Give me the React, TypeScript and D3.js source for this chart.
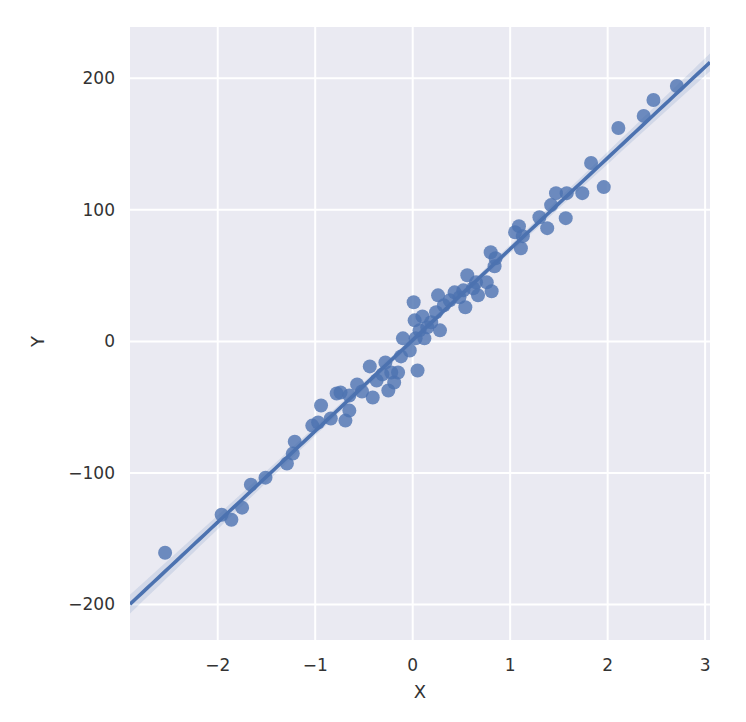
import React from "react";
import * as d3 from "d3";

const xValues = [-2.54,-1.96,-1.86,-1.75,-1.66,-1.51,-1.29,-1.23,-1.21,-1.03,-0.97,-0.94,-0.84,-0.78,-0.74,-0.69,-0.65,-0.65,-0.57,-0.52,-0.44,-0.41,-0.37,-0.31,-0.28,-0.25,-0.22,-0.19,-0.15,-0.12,-0.10,-0.03,0.01,0.05,0.02,0.03,0.07,0.10,0.12,0.15,0.19,0.24,0.26,0.28,0.32,0.38,0.43,0.48,0.52,0.54,0.56,0.62,0.65,0.67,0.76,0.81,0.80,0.85,0.84,1.05,1.09,1.11,1.13,1.30,1.38,1.42,1.47,1.58,1.57,1.74,1.83,1.96,2.11,2.37,2.47,2.71];
const yValues = [-160.7,-131.8,-135.6,-126.4,-108.9,-103.6,-92.9,-85.3,-76.2,-64.0,-61.7,-48.7,-58.6,-39.6,-38.8,-60.2,-52.6,-41.1,-32.7,-38.1,-19.0,-42.6,-29.7,-25.1,-16.0,-37.3,-23.6,-31.2,-23.6,-11.4,2.3,-6.9,29.7,-22.1,16.0,2.3,8.4,19.0,2.3,10.7,14.5,22.1,35.0,8.4,27.4,31.2,37.3,33.5,38.8,25.9,50.3,40.4,44.9,35.0,44.9,38.1,67.8,63.2,57.1,83.0,87.6,70.8,80.0,94.4,86.1,103.6,112.7,112.7,93.7,112.7,135.6,117.3,162.2,171.4,183.5,194.2];
const xTicks = [-2, -1, 0, 1, 2, 3];
const yTicks = [-200, -100, 0, 100, 200];
const xLabel = "X";
const yLabel = "Y";

const W = 746, H = 722;
const L = 130, R = 710, T = 27, B = 640;

export default function App() {
  const x = d3.scaleLinear().domain([-2.9, 3.05]).range([L, R]);
  const y = d3.scaleLinear().domain([-227, 239]).range([B, T]);
  const n = xValues.length;
  const mx = d3.mean(xValues)!;
  const my = d3.mean(yValues)!;
  let sxx = 0, sxy = 0;
  for (let i = 0; i < n; i++) {
    sxx += (xValues[i] - mx) ** 2;
    sxy += (xValues[i] - mx) * (yValues[i] - my);
  }
  const slope = sxy / sxx;
  const icpt = my - slope * mx;
  let sse = 0;
  for (let i = 0; i < n; i++) sse += (yValues[i] - (icpt + slope * xValues[i])) ** 2;
  const s = Math.sqrt(sse / (n - 2));
  const grid = d3.range(0, 101).map(i => -2.9 + (5.95 * i) / 100);
  const band = grid.map(g => {
    const f = icpt + slope * g;
    const se = s * Math.sqrt(1 / n + (g - mx) ** 2 / sxx);
    return { g, lo: f - 1.99 * se, hi: f + 1.99 * se, f };
  });
  const area = d3.area<any>().x(d => x(d.g)).y0(d => y(d.lo)).y1(d => y(d.hi));
  const line = d3.line<any>().x(d => x(d.g)).y(d => y(d.f));
  const font = "DejaVu Sans, sans-serif";
  const txt = "#333333";
  return (
    <svg width={W} height={H} style={{ position: "absolute", left: 0, top: 0, background: "#fff" }}>
      <defs>
        <clipPath id="plot"><rect x={L} y={T} width={R - L} height={B - T} /></clipPath>
      </defs>
      <rect x={L} y={T} width={R - L} height={B - T} fill="#eaeaf2" />
      {xTicks.map(t => (
        <line key={"gx" + t} x1={x(t)} x2={x(t)} y1={T} y2={B} stroke="#fff" strokeWidth={2} />
      ))}
      {yTicks.map(t => (
        <line key={"gy" + t} x1={L} x2={R} y1={y(t)} y2={y(t)} stroke="#fff" strokeWidth={2} />
      ))}
      <g clipPath="url(#plot)">
        {xValues.map((v, i) => (
          <circle key={i} cx={x(v)} cy={y(yValues[i])} r={7} fill="#4c72b0" fillOpacity={0.8} />
        ))}
        <path d={area(band)!} fill="#4c72b0" fillOpacity={0.15} />
        <path d={line(band)!} fill="none" stroke="#4c72b0" strokeWidth={3.6} />
      </g>
      {xTicks.map(t => (
        <text key={"tx" + t} x={x(t)} y={B + 31} textAnchor="middle" fontFamily={font} fontSize={17} fill={txt}>
          {t < 0 ? "\u2212" + Math.abs(t) : t}
        </text>
      ))}
      {yTicks.map(t => (
        <text key={"ty" + t} x={L - 15} y={y(t)} dy="0.35em" textAnchor="end" fontFamily={font} fontSize={17} fill={txt}>
          {t < 0 ? "\u2212" + Math.abs(t) : t}
        </text>
      ))}
      <text x={(L + R) / 2} y={B + 58} textAnchor="middle" fontFamily={font} fontSize={18} fill={txt}>{xLabel}</text>
      <text transform={`translate(44,${y(0)}) rotate(-90)`} textAnchor="middle" fontFamily={font} fontSize={18} fill={txt}>{yLabel}</text>
    </svg>
  );
}
